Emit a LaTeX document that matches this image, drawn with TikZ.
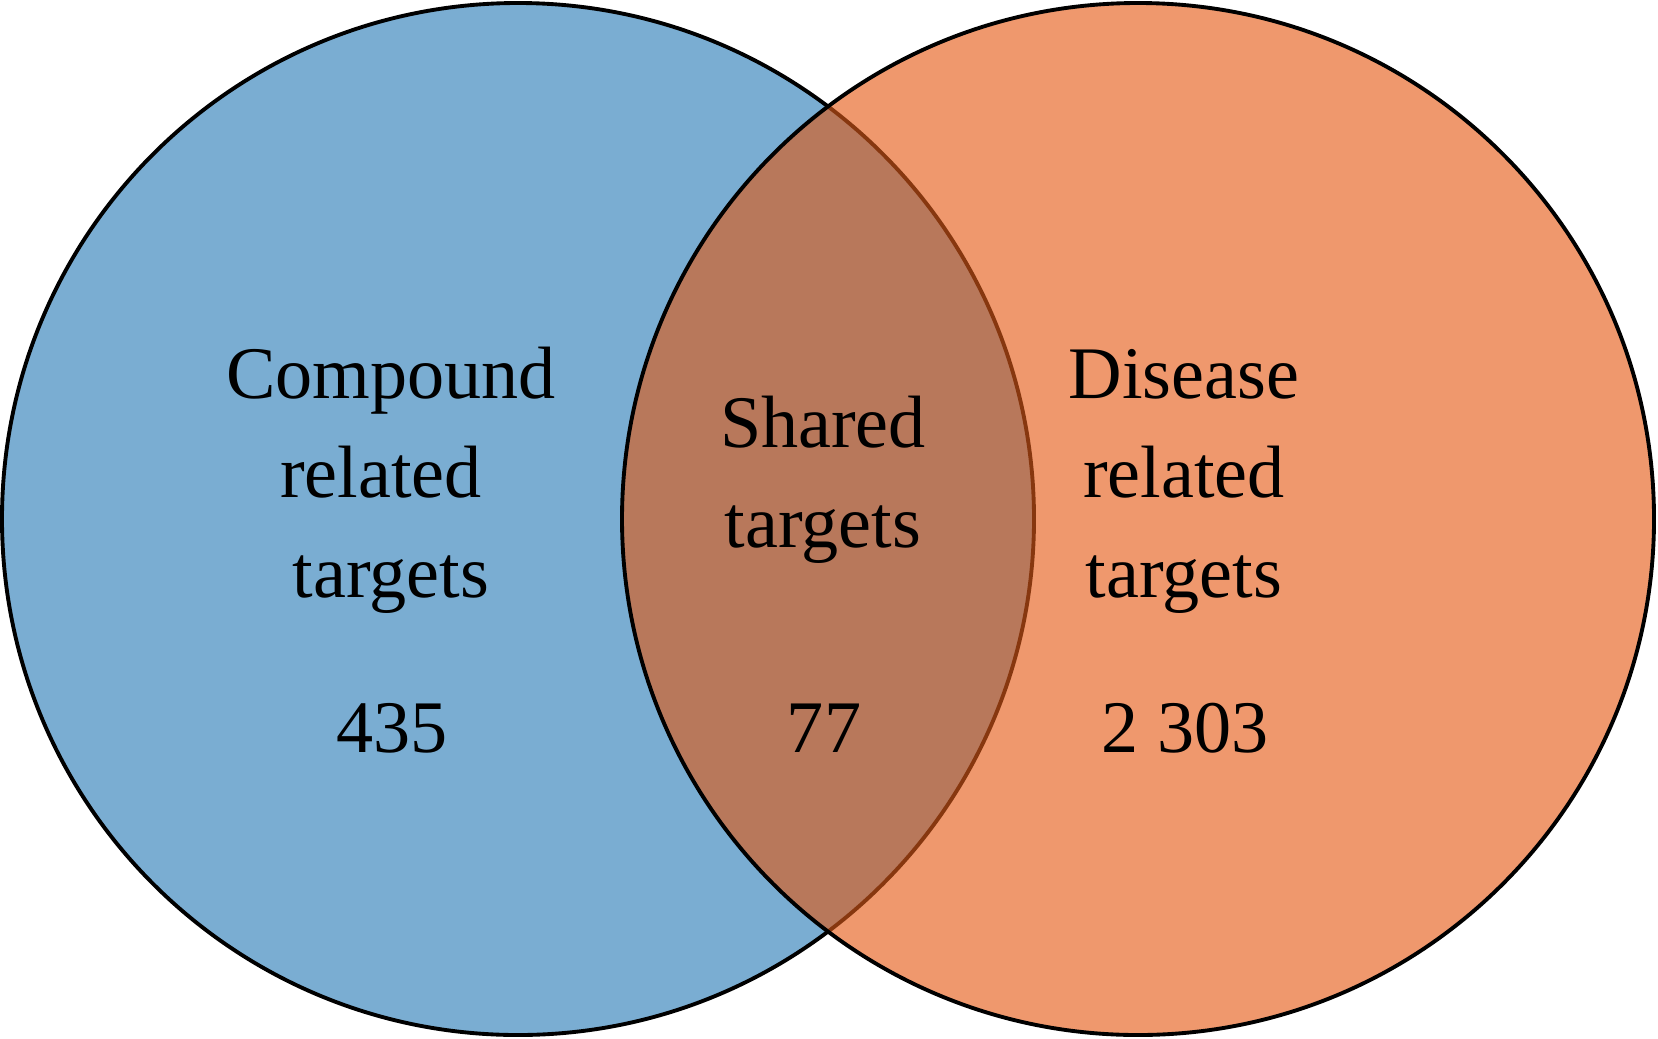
\documentclass[tikz,border=0pt]{standalone}
\usepackage{fontspec}
\setmainfont{Liberation Serif}
\usepackage{tikz}
\usetikzlibrary{positioning}

\definecolor{cmpblue}{RGB}{122,173,210}
\definecolor{disorange}{RGB}{239,152,109}
\definecolor{sharedbrown}{RGB}{184,120,91}
\definecolor{edgebrown}{RGB}{135,55,15}

\begin{document}
\begin{tikzpicture}
    \tikzstyle{txt} = [align=center, anchor=base, inner sep=0pt,
        font=\fontsize{21.1}{28.3}\selectfont];
    \tikzstyle{ring} = [line width=1.1pt];

    \useasboundingbox (0, 0) rectangle (16.58, 10.38);

    % the two sets
    \coordinate (cmpc) at (5.18, 5.19);
    \coordinate (disc) at (11.38, 5.19);
    \fill[cmpblue] (cmpc) circle (5.16);
    \draw[ring] (cmpc) circle (5.16);
    \fill[disorange] (disc) circle (5.16);
    \begin{scope}
        \clip (cmpc) circle (5.16);
        \fill[sharedbrown] (disc) circle (5.16);
    \end{scope}
    \begin{scope}
        \clip (disc) circle (5.16);
        \draw[ring, edgebrown] (cmpc) circle (5.16);
    \end{scope}
    \draw[ring] (disc) circle (5.16);

    % labels (anchored at the last line)
    \node[txt] (cmp) at (3.91, 4.41) {Compound\\related\rule{0.27em}{0pt}\\targets};
    \node[txt] (shr) at (8.23, 4.91) {Shared\\targets};
    \node[txt] (dis) at (11.84, 4.41) {Disease\\related\\targets};

    \node[txt] (ncmp) at (3.92, 2.86) {435};
    \node[txt] (nshr) at (8.24, 2.86) {77};
    \node[txt] (ndis) at (11.85, 2.86) {2 303};
\end{tikzpicture}
\end{document}
